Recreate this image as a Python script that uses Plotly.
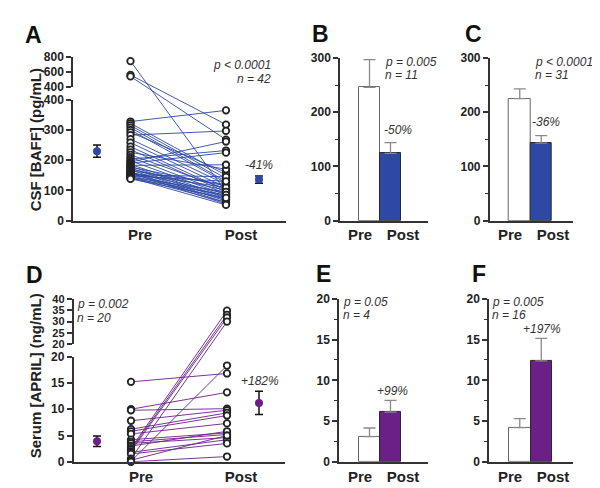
import plotly.graph_objects as go

# ---------------- data ----------------
# Panel A: CSF BAFF (pg/mL), paired pre/post, n = 42
a_pre = [745, 560, 540, 328, 322, 315, 308, 300, 292, 283, 270, 258, 245, 235, 226,
         218, 210, 204, 198, 194, 190, 186, 183, 180, 177, 174, 171, 168, 165, 162,
         160, 158, 156, 154, 152, 150, 148, 146, 144, 142, 140, 138]
a_post = [95, 318, 268, 365, 150, 140, 130, 125, 160, 297, 120, 110, 100, 95, 170,
          105, 90, 232, 85, 262, 225, 80, 185, 75, 115, 70, 100, 65, 120, 60,
          90, 55, 110, 80, 145, 70, 130, 60, 95, 52, 85, 75]
a_mean = [230, 136]
a_sem = [20, 12]

# Panel D: serum APRIL (ng/mL), paired pre/post, n = 20
d_pre = [15.2, 10.0, 9.8, 7.8, 6.2, 5.8, 5.3, 4.2, 3.8, 3.5, 3.0, 2.6, 2.3, 2.0,
         1.8, 1.5, 0.6, 0.3, 0.1, 0.0]
d_post = [16.8, 13.2, 10.1, 9.8, 9.3, 8.8, 7.3, 5.5, 5.2, 4.6, 5.8, 34.8, 33.0, 31.8,
          4.2, 3.5, 30.0, 5.0, 18.3, 1.0]
d_mean = [3.9, 11.2]
d_sem = [1.0, 2.2]

# Bar panels (mean, SEM) for Pre / Post
b_mean, b_sem = [246, 124], [51, 20]
c_mean, c_sem = [225, 143], [18, 14]
e_mean, e_sem = [3.1, 6.1], [1.05, 1.45]
f_mean, f_sem = [4.2, 12.4], [1.1, 2.75]

groups = ["Pre", "Post"]

# ---------------- styling / layout constants ----------------
W, H = 600, 488
FONT = "Liberation Sans, Arial, sans-serif"
AX = "#333333"
TXT = "#333333"
BLUE = "#2D48A5"
PURPLE = "#6A2086"


def px(x):
    return x / W


def py(y):
    return 1 - y / H


def make_break(lo_px, hi_px, lo_rng, hi_rng):
    """Transform for a broken axis drawn on one continuous data axis."""
    ppu = (lo_px[0] - lo_px[1]) / (lo_rng[1] - lo_rng[0])
    hscale = (hi_px[0] - hi_px[1]) / (hi_rng[1] - hi_rng[0]) / ppu

    def f(v):
        if v <= lo_rng[1]:
            return v
        return lo_rng[1] + (lo_px[1] - hi_px[0]) / ppu + (v - hi_rng[0]) * hscale

    top = lo_rng[0] + (lo_px[0] - hi_px[1]) / ppu
    return f, [lo_rng[0], top]


def yaxis_vis(dom_px, rng, anchor, dtick=None, tickvals=None, minor=None, fsize=12):
    d = dict(domain=[py(dom_px[0]), py(dom_px[1])], range=rng, anchor=anchor,
             showgrid=False, zeroline=False, fixedrange=True,
             showline=True, linecolor=AX, linewidth=1.5,
             ticks="outside", ticklen=5, tickwidth=1.5, tickcolor=AX,
             tickfont=dict(family=FONT, size=fsize, color="#222", weight="bold"))
    if dtick is not None:
        d.update(tickmode="linear", tick0=rng[0], dtick=dtick)
    if tickvals is not None:
        d.update(tickmode="array", tickvals=tickvals)
    if minor is not None:
        d["minor"] = dict(ticks="outside", ticklen=3, tickwidth=1.2, tickcolor=AX,
                          dtick=minor, tick0=rng[0], showgrid=False)
    return d


def yaxis_hidden(dom_px, rng, anchor):
    return dict(domain=[py(dom_px[0]), py(dom_px[1])], range=rng, anchor=anchor,
                showgrid=False, zeroline=False, showline=False, showticklabels=False,
                ticks="", fixedrange=True)


def xaxis(dom_px, center0_px, unit_px, anchor, label_px):
    rng = [(dom_px[0] - center0_px) / unit_px, (dom_px[1] - center0_px) / unit_px]
    return dict(domain=[px(dom_px[0]), px(dom_px[1])], range=rng, anchor=anchor,
                showgrid=False, zeroline=False, fixedrange=True,
                showline=True, linecolor=AX, linewidth=1.5, ticks="",
                tickmode="array",
                tickvals=[(p - center0_px) / unit_px for p in label_px],
                ticktext=groups,
                tickfont=dict(family=FONT, size=15, color="#222", weight="bold"))


fig = go.Figure()
layout = {}


def dummy(xa, ya):
    fig.add_trace(go.Scatter(x=[None], y=[None], xaxis=xa, yaxis=ya, mode="markers",
                             showlegend=False, hoverinfo="skip"))


# ---------- paired scatter panels (A and D) ----------
def paired_panel(pre, post, mean, sem, color, xa, ydata, ylo, yhi,
                 x_px, bottom_px, lo_top_px, hi_bot_px, hi_top_px, lo_rng, hi_rng,
                 lo_dtick, hi_ticks, hi_fsize, pre_px, post_px, mean_px, label_px):
    f, drng = make_break((bottom_px, lo_top_px), (hi_bot_px, hi_top_px), lo_rng, hi_rng)
    unit = post_px - pre_px
    xn = xa.replace("x", "xaxis")
    layout[xn] = xaxis(x_px, pre_px, unit, ylo, label_px)
    layout[ydata.replace("y", "yaxis")] = yaxis_hidden((bottom_px, hi_top_px), drng, xa)
    layout[ylo.replace("y", "yaxis")] = yaxis_vis((bottom_px, lo_top_px), lo_rng, xa,
                                                   dtick=lo_dtick)
    layout[yhi.replace("y", "yaxis")] = yaxis_vis((hi_bot_px, hi_top_px), hi_rng, xa,
                                                   tickvals=hi_ticks, fsize=hi_fsize)
    dummy(xa, ylo)
    dummy(xa, yhi)
    lx, ly = [], []
    for a, b in zip(pre, post):
        lx += [0, 1, None]
        ly += [f(a), f(b), None]
    fig.add_trace(go.Scatter(x=lx, y=ly, mode="lines", xaxis=xa, yaxis=ydata,
                             line=dict(color=color, width=0.9), showlegend=False,
                             hoverinfo="skip", cliponaxis=False))
    fig.add_trace(go.Scatter(x=[0] * len(pre) + [1] * len(post),
                             y=[f(v) for v in pre + post], mode="markers",
                             xaxis=xa, yaxis=ydata, cliponaxis=False, showlegend=False,
                             marker=dict(symbol="circle", size=6.5, color="white",
                                         line=dict(color="#222222", width=1.8))))
    mx = [(m - pre_px) / unit for m in mean_px]
    fig.add_trace(go.Scatter(x=mx, y=[f(v) for v in mean], mode="markers",
                             xaxis=xa, yaxis=ydata, cliponaxis=False, showlegend=False,
                             marker=dict(size=8, color=color),
                             error_y=dict(type="data", array=sem, color="#111",
                                          thickness=1.5, width=4)))


paired_panel(a_pre, a_post, a_mean, a_sem, BLUE, "x", "y", "y2", "y3",
             (65, 278), 211.7, 87.3, 74.0, 43.3, [0, 400], [400, 800],
             100, [400, 600, 800], 12, 122.5, 218.0, (89, 251), (132, 233))

paired_panel(d_pre, d_post, d_mean, d_sem, PURPLE, "x4", "y6", "y7", "y8",
             (65.5, 277), 460.0, 351.7, 339.0, 292.3, [0, 20], [20, 40],
             5, [20, 25, 30, 35, 40], 11, 123.0, 219.0, (89, 251), (133, 233))


# ---------- bar panels (B, C, E, F) ----------
def bar_panel(mean, sem, color, xa, ya, x_px, bar_left_px, unit_px, bottom_px, top_px,
              rng, dtick, minor, label_px):
    center0 = bar_left_px + unit_px / 2
    layout[xa.replace("x", "xaxis")] = xaxis(x_px, center0, unit_px, ya, label_px)
    layout[ya.replace("y", "yaxis")] = yaxis_vis((bottom_px, top_px), rng, xa,
                                                  dtick=dtick, minor=minor)
    fig.add_trace(go.Bar(x=[0, 1], y=mean, width=1, xaxis=xa, yaxis=ya,
                         showlegend=False,
                         marker=dict(color=["white", color],
                                     line=dict(color=["#666666", "#2a2a2a"], width=1)),
                         error_y=dict(type="data", symmetric=False, array=sem,
                                      arrayminus=[0, 0], color="#8a8a8a",
                                      thickness=1.3, width=6)))


bar_panel(b_mean, b_sem, BLUE, "x2", "y4", (332, 420), 351, 21, 211.7, 44.3,
          [0, 300], 100, 50, (352, 395))
bar_panel(c_mean, c_sem, BLUE, "x3", "y5", (481.7, 565), 501, 21.5, 211.7, 44.3,
          [0, 300], 100, 50, (502, 545))
bar_panel(e_mean, e_sem, PURPLE, "x5", "y9", (331, 420), 351, 21, 460.0, 292.3,
          [0, 20], 5, 2.5, (352, 395))
bar_panel(f_mean, f_sem, PURPLE, "x6", "y10", (481, 565), 501, 21.5, 460.0, 292.3,
          [0, 20], 5, 2.5, (502, 545))

# ---------- text ----------
ann = []


def text(t, x, y, size=12, xanchor="center", italic=True, bold=False, angle=0,
         color=TXT):
    s = t
    if italic:
        s = "<i>" + s + "</i>"
    ann.append(dict(text=s, x=px(x), y=py(y), xref="paper", yref="paper",
                    xanchor=xanchor, yanchor="middle", showarrow=False,
                    textangle=angle, borderpad=0,
                    font=dict(family=FONT, size=size, color=color,
                              weight="bold" if bold else "normal")))


# panel letters
for letter, x, y in [("A", 25, 20.5), ("B", 313, 20), ("C", 465, 20),
                     ("D", 26, 267.5), ("E", 316, 267), ("F", 471, 267)]:
    text(letter, x, y, size=23, italic=False, bold=True, color="#111")

# y titles
text("CSF [BAFF] (pg/mL)", 27, 129, size=15, italic=False, bold=True, angle=-90,
     color="#222")
text("Serum [APRIL] (ng/mL)", 27, 372, size=15, italic=False, bold=True, angle=-90,
     color="#222")

# statistics
text("p < 0.0001", 264, 51.5, xanchor="right")
text("n = 42", 264, 65.5, xanchor="right")
text("-41%", 251, 154)

text("p = 0.005", 376, 48, xanchor="left")
text("n = 11", 376, 62, xanchor="left")
text("-50%", 389.5, 118)

text("p < 0.0001", 526, 48, xanchor="left")
text("n = 31", 526, 62, xanchor="left")
text("-36%", 538, 110)

text("p = 0.002", 68, 298, xanchor="left")
text("n = 20", 68, 311.5, xanchor="left")
text("+182%", 251.5, 377)

text("p = 0.05", 334, 295, xanchor="left")
text("n = 4", 334, 309, xanchor="left")
text("+99%", 384, 387)

text("p = 0.005", 483, 295, xanchor="left")
text("n = 16", 483, 309, xanchor="left")
text("+197%", 534, 323)

fig.update_layout(width=W, height=H, margin=dict(l=0, r=0, t=0, b=0),
                  paper_bgcolor="white", plot_bgcolor="rgba(0,0,0,0)",
                  showlegend=False, annotations=ann, bargap=0,
                  font=dict(family=FONT, color="#222"), **layout)

fig.write_html("out.html")
